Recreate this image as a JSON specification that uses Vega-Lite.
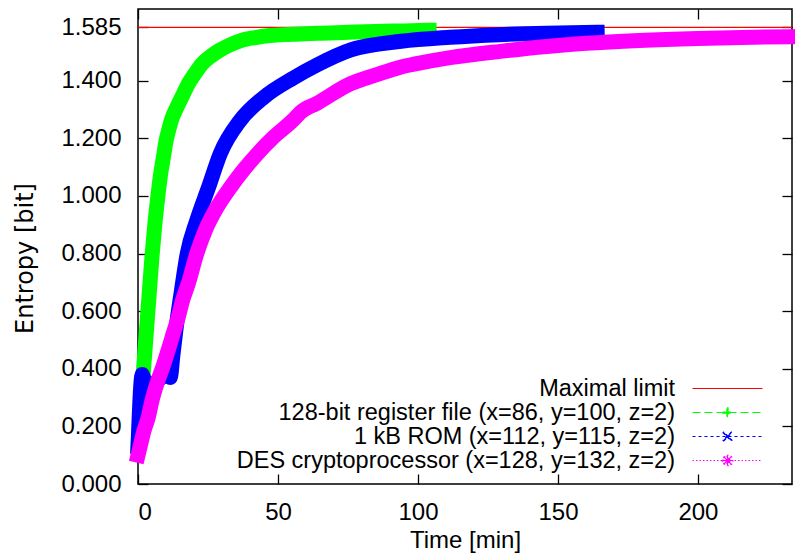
{
  "$schema": "https://vega.github.io/schema/vega-lite/v6.json",
  "width": 654,
  "height": 475,
  "autosize": {"type": "none"},
  "padding": {"left": 138, "top": 9, "right": 3, "bottom": 75},
  "config": {
    "view": {"stroke": "black", "strokeWidth": 1.5},
    "font": "Liberation Sans",
    "axis": {"labelFont": "Liberation Sans", "titleFont": "Liberation Sans", "labelColor": "black", "titleColor": "black", "tickColor": "black", "titleFontWeight": "normal", "grid": false, "domain": false, "tickWidth": 1.3, "tickSize": -10}
  },
  "data": {
    "values": [
      {"s": "limit", "t": 0, "e": 1.585},
      {"s": "limit", "t": 233.6, "e": 1.585},
      {"s": "reg", "t": 0, "e": 0.13},
      {"s": "reg", "t": 1, "e": 0.27},
      {"s": "reg", "t": 2, "e": 0.4},
      {"s": "reg", "t": 3, "e": 0.53},
      {"s": "reg", "t": 4, "e": 0.66},
      {"s": "reg", "t": 5, "e": 0.79},
      {"s": "reg", "t": 6, "e": 0.9},
      {"s": "reg", "t": 7, "e": 0.99},
      {"s": "reg", "t": 8, "e": 1.07},
      {"s": "reg", "t": 9, "e": 1.13},
      {"s": "reg", "t": 10, "e": 1.19},
      {"s": "reg", "t": 11, "e": 1.23},
      {"s": "reg", "t": 12, "e": 1.265},
      {"s": "reg", "t": 14, "e": 1.31},
      {"s": "reg", "t": 16, "e": 1.35},
      {"s": "reg", "t": 18, "e": 1.39},
      {"s": "reg", "t": 20, "e": 1.42},
      {"s": "reg", "t": 23, "e": 1.46},
      {"s": "reg", "t": 26, "e": 1.485},
      {"s": "reg", "t": 29, "e": 1.505},
      {"s": "reg", "t": 33, "e": 1.525},
      {"s": "reg", "t": 37, "e": 1.54},
      {"s": "reg", "t": 42, "e": 1.55},
      {"s": "reg", "t": 47, "e": 1.557},
      {"s": "reg", "t": 55, "e": 1.561},
      {"s": "reg", "t": 64, "e": 1.565},
      {"s": "reg", "t": 75, "e": 1.568},
      {"s": "reg", "t": 85, "e": 1.571},
      {"s": "reg", "t": 95, "e": 1.573},
      {"s": "reg", "t": 104, "e": 1.575},
      {"s": "rom", "t": 0, "e": 0.13},
      {"s": "rom", "t": 1.5, "e": 0.38},
      {"s": "rom", "t": 3, "e": 0.33},
      {"s": "rom", "t": 6, "e": 0.35},
      {"s": "rom", "t": 9, "e": 0.38},
      {"s": "rom", "t": 10, "e": 0.4},
      {"s": "rom", "t": 11.5, "e": 0.37},
      {"s": "rom", "t": 12.5, "e": 0.45},
      {"s": "rom", "t": 14, "e": 0.57},
      {"s": "rom", "t": 15.5, "e": 0.67},
      {"s": "rom", "t": 17.6, "e": 0.8},
      {"s": "rom", "t": 21, "e": 0.915},
      {"s": "rom", "t": 25.2, "e": 1.03},
      {"s": "rom", "t": 29.4, "e": 1.147},
      {"s": "rom", "t": 36.5, "e": 1.262},
      {"s": "rom", "t": 45, "e": 1.343},
      {"s": "rom", "t": 55.6, "e": 1.41},
      {"s": "rom", "t": 64, "e": 1.455},
      {"s": "rom", "t": 76, "e": 1.507},
      {"s": "rom", "t": 94, "e": 1.537},
      {"s": "rom", "t": 111.5, "e": 1.551},
      {"s": "rom", "t": 129, "e": 1.56},
      {"s": "rom", "t": 146, "e": 1.565},
      {"s": "rom", "t": 164, "e": 1.568},
      {"s": "des", "t": 0, "e": 0.1},
      {"s": "des", "t": 1, "e": 0.14},
      {"s": "des", "t": 2, "e": 0.18},
      {"s": "des", "t": 3.7, "e": 0.233},
      {"s": "des", "t": 5, "e": 0.29},
      {"s": "des", "t": 6.8, "e": 0.35},
      {"s": "des", "t": 9, "e": 0.41},
      {"s": "des", "t": 10.8, "e": 0.465},
      {"s": "des", "t": 12.5, "e": 0.52},
      {"s": "des", "t": 14.4, "e": 0.58},
      {"s": "des", "t": 16, "e": 0.64},
      {"s": "des", "t": 18, "e": 0.697},
      {"s": "des", "t": 21, "e": 0.8},
      {"s": "des", "t": 24, "e": 0.88},
      {"s": "des", "t": 28.2, "e": 0.96},
      {"s": "des", "t": 33, "e": 1.03},
      {"s": "des", "t": 37.6, "e": 1.089},
      {"s": "des", "t": 43, "e": 1.15},
      {"s": "des", "t": 48.4, "e": 1.204},
      {"s": "des", "t": 55.6, "e": 1.265},
      {"s": "des", "t": 58, "e": 1.29},
      {"s": "des", "t": 64, "e": 1.322},
      {"s": "des", "t": 75.8, "e": 1.389},
      {"s": "des", "t": 85, "e": 1.42},
      {"s": "des", "t": 93.7, "e": 1.447},
      {"s": "des", "t": 100, "e": 1.46},
      {"s": "des", "t": 111.5, "e": 1.48},
      {"s": "des", "t": 129.4, "e": 1.502},
      {"s": "des", "t": 146, "e": 1.519},
      {"s": "des", "t": 160, "e": 1.53},
      {"s": "des", "t": 179, "e": 1.54},
      {"s": "des", "t": 200, "e": 1.547},
      {"s": "des", "t": 220, "e": 1.551},
      {"s": "des", "t": 234, "e": 1.553}
    ]
  },
  "resolve": {"axis": {"x": "independent", "y": "independent"}},
  "layer": [
    {
      "transform": [{"filter": "datum.s == 'limit'"}],
      "mark": {"type": "line", "strokeWidth": 1.2},
      "encoding": {
        "x": {"field": "t", "type": "quantitative", "scale": {"domain": [0, 233.6], "nice": false, "zero": false},
              "axis": {"orient": "top", "labels": false, "title": null, "values": [0, 50, 100, 150, 200]}},
        "y": {"field": "e", "type": "quantitative", "scale": {"domain": [0, 1.649], "nice": false},
              "axis": {"orient": "right", "labels": false, "title": null, "values": [0, 0.2, 0.4, 0.6, 0.8, 1.0, 1.2, 1.4, 1.585]}},
        "color": {"field": "s", "type": "nominal",
                  "scale": {"domain": ["limit", "reg", "rom", "des"], "range": ["#ff0000", "#00ff00", "#0000ff", "#ff00ff"]}}
      }
    },
    {
      "transform": [{"filter": "datum.s != 'limit'"}],
      "mark": {"type": "line", "strokeWidth": 15, "strokeCap": "square", "strokeJoin": "round", "interpolate": "monotone"},
      "encoding": {
        "x": {"field": "t", "type": "quantitative",
              "axis": {"orient": "bottom", "title": "Time [min]", "values": [0, 50, 100, 150, 200], "labelFontSize": 24, "titleFontSize": 24, "labelPadding": 26, "titlePadding": 4}},
        "y": {"field": "e", "type": "quantitative",
              "axis": {"orient": "left", "title": "Entropy [bit]", "titleFont": "DejaVu Sans", "titleY": 249, "values": [0, 0.2, 0.4, 0.6, 0.8, 1.0, 1.2, 1.4, 1.585], "format": ".3f", "labelFontSize": 24, "titleFontSize": 24, "labelPadding": 27, "titlePadding": 23}},
        "color": {"field": "s", "type": "nominal",
                  "legend": {
                    "orient": "none", "legendX": 577, "legendY": 367,
                    "title": null, "padding": 0, "rowPadding": 0,
                    "labelExpr": "datum.value == 'limit' ? 'Maximal limit' : datum.value == 'reg' ? '128-bit register file (x=86, y=100, z=2)' : datum.value == 'rom' ? '1 kB ROM (x=112, y=115, z=2)' : 'DES cryptoprocessor (x=128, y=132, z=2)'",
                    "labelAlign": "right", "labelOffset": -65, "labelFont": "Liberation Sans", "labelFontSize": 23.5, "labelColor": "black", "labelLimit": 1000,
                    "symbolType": "M-3,0H3", "symbolSize": 544, "symbolStrokeWidth": 1.2,
                    "encode": {
                      "symbols": {
                        "update": {
                          "shape": {"signal": "datum.index == 0 ? 'M-3,0H3' : datum.index == 1 ? 'M-3,0H3M-0.4,-0.045H0.4V0.045H-0.4ZM-0.045,-0.4H0.045V0.4H-0.045Z' : datum.index == 2 ? 'M-3,0H3M-0.38,-0.32L0.32,0.38L0.38,0.32L-0.32,-0.38ZM-0.32,0.38L0.38,-0.32L0.32,-0.38L-0.38,0.32Z' : 'M-3,0H3M-0.45,-0.045H0.45V0.045H-0.45ZM-0.045,-0.45H0.045V0.45H-0.045ZM-0.36,-0.3L0.3,0.36L0.36,0.3L-0.3,-0.36ZM-0.3,0.36L0.36,-0.3L0.3,-0.36L-0.36,0.3Z'"},
                          "strokeDash": {"signal": "datum.index == 0 ? [1,0] : datum.index == 1 ? [8,4] : datum.index == 2 ? [3,3] : [1.5,2]"},
                          "fill": {"scale": "color", "field": "value"},
                          "stroke": {"scale": "color", "field": "value"},
                          "strokeWidth": {"value": 1.2}
                        }
                      }
                    }
                  }}
      }
    }
  ]
}
